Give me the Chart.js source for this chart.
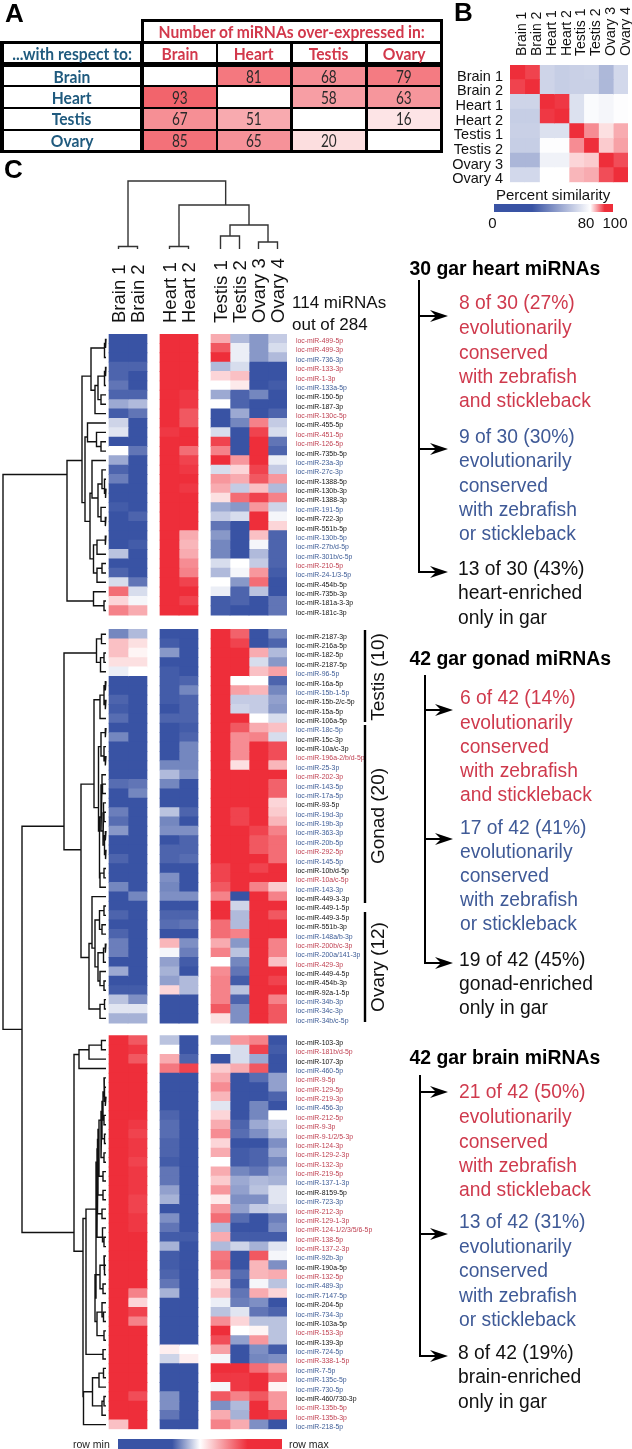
<!DOCTYPE html>
<html>
<head>
<meta charset="utf-8">
<title>gar miRNAs</title>
<script src="https://cdn.jsdelivr.net/npm/chart.js@4"></script>
<style>
html, body { margin: 0; padding: 0; background: #fff; }
#page { position: relative; width: 632px; height: 1449px; overflow: hidden; font-family: "Liberation Sans", Arial, sans-serif; }
#page canvas { position: absolute; }
#arrows { position: absolute; left: 0; top: 0; }
.t { position: absolute; white-space: nowrap; }
.cell { position: absolute; display: flex; align-items: center; justify-content: center; overflow: visible; white-space: nowrap; font-family: Lato, sans-serif; font-size: 17px; background: #fff; }
.cell span { display: inline-block; }
</style>
</head>
<body>
<div id="page">
  <canvas id="chartMain" width="632" height="1449" style="left:0;top:0"></canvas>
  <canvas id="chartSim" width="192" height="198" style="left:440px;top:0"></canvas>
  <svg id="arrows" width="632" height="1449"></svg>
</div>
<script>
// panel A
const tissues = ['Brain', 'Heart', 'Testis', 'Ovary'];
const overExpressed = [
    [null, 81, 68, 79],
    [93, null, 58, 63],
    [67, 51, null, 16],
    [85, 65, 20, null]
];

// panel B
const simSamples = ['Brain 1', 'Brain 2', 'Heart 1', 'Heart 2', 'Testis 1', 'Testis 2', 'Ovary 3', 'Ovary 4'];
const similarity = [
    [100, 98, 60, 57, 58, 59, 47, 62],
    [98, 100, 60, 57, 58, 58, 47, 62],
    [60, 60, 100, 99, 66, 78, 76, 79],
    [57, 57, 99, 100, 66, 78, 76, 79],
    [58, 58, 66, 66, 100, 91, 83, 88],
    [57, 57, 79, 79, 91, 100, 85, 89],
    [46, 46, 74, 74, 84, 85, 100, 97],
    [62, 62, 80, 80, 87, 88, 97, 100]
];

// panel C, values are row scaled from -10 (row min) to 10 (row max)
const heartNames = ['499-5p','499-3p','736-3p','133-3p','1-3p','133a-5p','150-5p','187-3p','130c-5p','455-5p','451-5p','126-5p','735b-5p','23a-3p','27c-3p','1388-5p','130b-3p','1388-3p','191-5p','722-3p','551b-5p','130b-5p','27b/d-5p','301b/c-5p','210-5p','24-1/3-5p','454b-5p','735b-3p','181a-3-3p','181c-3p'];
const heartKinds = 'rrbrrbkkrkrrkbbkkkbkkbbbrbkkkk';
const heartRows = [
    [-10,-10,10,10,4,-4,-6,-3],
    [-10,-10,10,10,8,-1,-6,-2],
    [-10,-10,10,10,10,-1,-6,-4],
    [-9,-9,10,10,-4,-2,-10,-10],
    [-9,-10,10,10,2,3,-10,-10],
    [-8,-10,10,10,0,1,-10,-9.5],
    [-9,-9,10,9.5,-5,-9,-7,-10],
    [-5,-4,10,9.5,0,-9,-10,-10],
    [-9.5,-8,10,8,-10,-5,-10,-9],
    [-2.5,-10,10,8,-10,-7,6,-3],
    [-1.5,-10,9.5,10,-2,-10,9,-2],
    [-10,-10,10,10,9,-10,10,-8],
    [0,-8,10,7,6,-10,10,-9],
    [-5,-10,10,9,10,5,10,-1],
    [-9,-10,10,9.5,-2,2,9,-3],
    [-7.5,-10,10,10,5,4,8,5],
    [-10,-10,10,9.5,4,-3,3,-4],
    [-10,-10,10,10,1.5,7,9,6],
    [-9.5,-10,10,10,-5,-6,5,-2.5],
    [-10,-9,10,10,-3,-2,10,-0.5],
    [-10,-10,10,10,-8,-10,10,2],
    [-10,-10,10,4,-6,-10,3,-9],
    [-10,-9.5,10,3.5,-7,-10,-0.5,-9],
    [-3.5,-10,10,4,-7,-10,-4,-9],
    [-10,-10,10,5.5,-2,0,-3,-9],
    [-9,-10,10,6,-4,-0.5,5,-9.5],
    [-2,-8,10,9,0,-6,7,-10],
    [7,-2,10,10,-1,-9,-3.5,-10],
    [2,-0.5,10,9,-9.5,-9,-10,-8],
    [6,4,10,10,-9.5,-10,-10,-8]
];

const gonadNames = ['2187-3p','216a-5p','182-5p','2187-5p','96-5p','16a-5p','15b-1-5p','15b-2/c-5p','15a-5p','106a-5p','18c-5p','15c-3p','10a/c-3p','196a-2/b/d-5p','25-3p','202-3p','143-5p','17a-5p','93-5p','19d-3p','19b-3p','363-3p','20b-5p','292-5p','145-5p','10b/d-5p','10a/c-5p','143-3p','449-3-3p','449-1-5p','449-3-5p','551b-3p','148a/b-3p','200b/c-3p','200a/141-3p','429-3p','449-4-5p','454b-3p','92a-1-5p','34b-3p','34c-3p','34b/c-5p'];
const gonadKinds = 'kkkkbkbkkkbkkrbrbbkbbbbrbkrbkkkkbrbrkkkbbb';
const gonadRows = [
    [-7,-4,-10,-10,10,7.5,-10,-7],
    [3,1.5,-9.5,-10,10,9,-10,-9],
    [3,0.5,-6,-10,10,10,4,-4],
    [1.5,1.5,-10,-10,10,10,-2,-6],
    [-1,0,-9.5,-10,10,10,3,4.5],
    [-10,-10,-9.5,-9,10,0,0,-9],
    [-10,-10,-9.5,-7,10,4.5,3.5,-7],
    [-9,-10,-9.5,-9,10,-3,-3,-5.5],
    [-9.5,-10,-10,-9,10,-2.5,-3,-6],
    [-8.5,-10,-9,-9,10,10,0,-2],
    [-10,-10,-10,-9.5,10,8,4,3],
    [-7,-10,-10,-9,10,5.5,6,-2],
    [-10,-10,-10,-7,10,5.5,10,8.5],
    [-10,-10,-10,-7,10,5.5,10,8.5],
    [-10,-10,-7,-7,10,1.5,10,3.5],
    [-10,-10,-4,-6.5,10,10,10,10],
    [-8.5,-8,-7,-10,10,10,10,7.5],
    [-10,-7,-10,-10,10,10,10,7.5],
    [-10,-10,-10,-10,10,10,10,2],
    [-7.5,-10,-3.5,-9,10,9,10,2.5],
    [-8.5,-10,-7,-10,10,9,10,3.5],
    [-6,-10,-6.5,-6.5,10,10,9,6],
    [-10,-10,-10,-9,10,10,8,7],
    [-10,-10,-9,-9,10,10,8,7],
    [-9,-10,-9,-8.5,10,10,10,7],
    [-10,-10,-10,-10,9,10,9,10],
    [-10,-10,-6.5,-10,9,10,10,10],
    [-7,-10,-7,-10,8,10,6,2.5],
    [-10,-7,-6.5,-6.5,6,-10,10,6],
    [-10,-10,-10,-10,10,-2.5,10,10],
    [-9,-10,-9,-9,10,-4,10,8],
    [-10,-10,-8.5,-8,7,-4,10,10],
    [-9,-10,-10,-10,7,6,10,10],
    [-7.5,-10,3.5,-6.5,4,-6,10,6],
    [-7.5,-10,-0.5,-7.5,6,-3.5,10,6],
    [-10,-10,-5.5,-9.5,0,-7,10,3],
    [-5,-10,-4.5,-10,5.5,-8,10,10],
    [-10,-10,-5.5,-4,6,-9.5,10,9],
    [-9.5,-9.5,2,-4,6,-3.5,10,10],
    [-3.5,-6.5,-10,-10,6,-9,10,6],
    [-1.5,-1.5,-10,-10,8,-6.5,10,8],
    [-4.5,-4.5,-10,-10,1.5,-6.5,10,8]
];

const brainNames = ['103-3p','181b/d-5p','107-3p','460-5p','9-5p','129-5p','219-3p','456-3p','212-5p','9-3p','9-1/2/5-3p','124-3p','129-2-3p','132-3p','219-5p','137-1-3p','8159-5p','723-3p','212-3p','129-1-3p','124-1/2/3/5/6-5p','138-5p','137-2-3p','92b-3p','190a-5p','132-5p','489-3p','7147-5p','204-5p','734-3p','103a-5p','153-3p','139-3p','724-5p','338-1-5p','7-5p','135c-5p','730-5p','460/730-3p','135b-5p','135b-3p','218-5p'];
const brainKinds = 'krkbrrrbrrrrrrrbkbrrrrrbkrbbkbkrkbrbbbkrrb';
const brainRows = [
    [10,8,-3.5,-10,-4,5,6,-10],
    [10,9.5,0,-10,0,-2,9,-9.5],
    [10,8,4,-9,-10,-2,-5,-10],
    [10,10,6.5,9,2.5,4,8,-10],
    [10,10,-10,-10,4,-10,-8.5,-5.5],
    [10,10,-10,-10,5.5,-10,-10,-5.5],
    [10,10,-10,-10,3.5,-10,-10,-9],
    [10,10,-10,-10,-1.5,-10,-7,-10],
    [10,10,-9,-10,2,-10,-7,0],
    [10,9.5,-8.5,-10,4,-9,-5,-3],
    [10,9,-8.5,-10,5.5,-8.5,-6.5,-3.5],
    [10,9.5,-9,-10,2,-10,-10,-6.5],
    [10,9.5,-9,-10,4,-9.5,-9,-5],
    [10,9,-9.5,-10,0,-9.5,-9,-7],
    [10,9.5,-8,-10,4,-7,-8,-5],
    [10,9.5,-8,-10,2.5,-5,-4,-4.5],
    [10,9.5,-5.5,-10,5,-5.5,-3.5,-1.5],
    [10,9,-4.5,-10,1,-6.5,-6.5,-1.5],
    [10,9,-10,-10,5,-5.5,-3,-2.5],
    [10,9.5,-6.5,-10,7,-8.5,-10,-7.5],
    [10,9.5,-8,-10,-4,-10,-10,-6.5],
    [10,10,-9.5,-9.5,4,-9.5,-9.5,-9.5],
    [10,10,-4.5,-10,-4,-2.5,-4.5,-1.5],
    [10,10,-9.5,-10,6.5,-10,8,-0.5],
    [10,10,-9.5,-10,7,-10,3.5,-6.5],
    [10,10,-9,-10,4.5,-8.5,3.5,4],
    [10,10,-8,-10,1.5,-9.5,-0.5,-3.5],
    [10,6,-4.5,-10,3,-8,4,2],
    [10,2,-10,-10,-1,-7.5,-6.5,-10],
    [10,9,-10,-10,-3.5,-1.5,-8,-9],
    [10,6,-10,-10,5.5,2,-3.5,-3.5],
    [10,10,-10,-10,10,0,0.5,-3.5],
    [10,10,-10,-10,8.5,-5.5,5,-3.5],
    [10,10,0.8,0,4.5,-10,-6.5,-9.5],
    [10,10,-2.5,0.8,-0.5,-10,-7,-6.5],
    [10,10,-10,-10,10,10,7,4.5],
    [10,10,-10,-10,9.5,9.5,10,7],
    [10,10,-10,-10,-0.5,9.5,10,0.5],
    [10,8.5,-6.5,-10,8,6,8,5],
    [10,10,-6.5,-10,-6.5,-4,10,5],
    [10,10,-8,-10,4,-4.5,10,9],
    [3,10,-10,-10,6,4,-6.5,-10]
];

// dendrograms: node = [merge height, child, child], a number is a leaf
const sampleTree = [68, [2.5, 0, 1], [44, [2.5, 2, 3], [24, [13, 4, 5], [7, 6, 7]]]];
const heartTree = [39,
    [24,
        [15, [1.5, [0.7, 1, 2], 3], [11, [8, [1.5, [0.7, 4, 5], 6], [5, 7, 8]], 9]],
        [21,
            [18.5, 10, [9.5, 11, [5, 12, 13]]],
            [16,
                [14, 14, [8, [4, 15, [1.5, 16, [0.7, 17, 18]]], [5, 19, [1, 20, 21]]]],
                [12.5, [9, [1, 22, 23], 24], [9, [4, 25, 26], 27]]]]],
    [12.5, 28, [2, 29, 30]]];
const gonadTree = [42,
    [9.5, [4.5, 31, 32], [5.5, [2, 33, 34], 35]],
    [25,
        [12,
            [6, [2, [1, 36, 37], [1, 38, 39]], 40],
            [7.5,
                [5, [1, 41, 42], [2, 43, [1, 44, 45]]],
                [6.5,
                    [5, [4, 46, [3.5, 47, 48]], [3, [2.5, 49, [2, 50, 51]], [1.5, [1, 52, 53], [0.7, 54, 55]]]],
                    [6, [2, 56, 57], 58]]]],
        [17,
            [14, 59, [11, [6.5, [2, 60, 61], [4, 62, 63]], [8, [2.5, [1, 64, 65], 66], [6, 67, [2, 68, 69]]]]],
            [6, [1.5, 70, 71], 72]]]];
const brainChain = [9, [8.5, [8, [7, [5, [4, [3, [2, 77, [1.5, 78, [1, 79, 80]]], [2, 81, 82]], [1.5, 83, 84]], [2, 85, 86]], [3, 87, 88]], [3, 89, 90]], [4, 91, 92]], [3.5, 93, [2, 94, 95]]];
const brainTree = [32,
    [27, [17, [4.5, 73, 74], 75], 76],
    [23,
        [20,
            [10, brainChain, [11, [6, [2, 96, [1.5, 97, 98]], [3, 99, 100]], [9, [4, 101, [2.5, 102, 103]], [2, 104, 105]]]],
            [3, 106, 107]],
        [22.5, [13.5, [7, [2.5, 108, 109], 110], [4, [2, 111, 112], 113]], 114]]];
const rowTree = [103, heartTree, [84, gonadTree, brainTree]];

// layout of the heatmap in column and row units
const colStart = [0, 1, 2.684, 3.684, 5.368, 6.368, 7.368, 8.368];
const blockOffset = [0, 1.54, 2.89];
const labelShift = 0.27;

const RED = [238, 46, 58];
const BLUE = [57, 83, 164];
const kindColor = { r: '#bf3f50', b: '#3d5c96', k: '#111' };
const textRed = '#cf3a4d', textBlue = '#3f5a97', teal = '#1f5a7e', tableRed = '#d2384b';

function mix(rgb, t) {
    const c = rgb.map(v => Math.round(255 + (v - 255) * t));
    return `rgb(${c[0]},${c[1]},${c[2]})`;
}
function heatColor(v) {
    return v < 0 ? mix(BLUE, -v / 10) : mix(RED, v / 10);
}
function simColor(p) {
    return p < 80 ? mix(BLUE, (80 - p) / 80) : mix(RED, (p - 80) / 20);
}

const allRows = [...heartRows, ...gonadRows, ...brainRows];
const allNames = [...heartNames, ...gonadNames, ...brainNames].map(n => 'loc-miR-' + n);
const allKinds = (heartKinds + gonadKinds + brainKinds).split('');
const rowPos = allRows.map((r, i) => i + 0.5 + blockOffset[i < 30 ? 0 : i < 72 ? 1 : 2]);
const colCenter = colStart.map(s => s + 0.5);

// walk a tree, pushing the elbow of every merge; node position = mean of its leaves
function treeLines(node, leafPos, out) {
    if (typeof node === 'number') return { h: 0, pos: leafPos(node), n: 1 };
    const a = treeLines(node[1], leafPos, out);
    const b = treeLines(node[2], leafPos, out);
    const h = node[0];
    out.push({ h: a.h, p: a.pos }, { h: h, p: a.pos }, { h: h, p: b.pos }, { h: b.h, p: b.pos }, null);
    return { h: h, pos: (a.pos * a.n + b.pos * b.n) / (a.n + b.n), n: a.n + b.n };
}

const rowLines = [];
treeLines(rowTree, leaf => rowPos[leaf - 1], rowLines);
const colLines = [];
treeLines(sampleTree, leaf => colCenter[leaf], colLines);

const datasets = simSamples.map((name, c) => ({
    type: 'bar',
    label: name,
    data: allRows.map((r, i) => ({ x: [colStart[c], colStart[c] + 1], y: rowPos[i] })),
    backgroundColor: allRows.map(r => heatColor(r[c])),
    borderWidth: 0,
    barThickness: 9.6,
    grouped: false
}));
datasets.push({
    type: 'line',
    label: 'rows',
    xAxisID: 'xd',
    yAxisID: 'y',
    data: rowLines.map(d => d ? { x: d.h, y: d.p } : { x: null, y: null }),
    borderColor: '#111',
    borderWidth: 1.4,
    pointRadius: 0,
    clip: false,
    order: -1
});
datasets.push({
    type: 'line',
    label: 'samples',
    xAxisID: 'x',
    yAxisID: 'yd',
    data: colLines.map(d => d ? { x: d.p, y: d.h } : { x: null, y: null }),
    borderColor: '#333',
    borderWidth: 1.4,
    pointRadius: 0,
    clip: false,
    order: -1
});

new Chart(document.getElementById('chartMain'), {
    type: 'bar',
    data: { datasets: datasets },
    options: {
        indexAxis: 'y',
        responsive: false,
        animation: false,
        layout: { padding: { bottom: 19.7 } },
        plugins: { legend: { display: false }, tooltip: { enabled: false } },
        scales: {
            x: {
                type: 'linear',
                position: 'top',
                min: -5.737,
                max: 9.368,
                grid: { display: false, drawTicks: false },
                border: { display: false },
                afterBuildTicks: s => { s.ticks = colCenter.map(v => ({ value: v })); },
                afterFit: s => { s.height = 334; },
                ticks: {
                    autoSkip: false,
                    minRotation: 90,
                    maxRotation: 90,
                    padding: 11,
                    labelOffset: 23.5,
                    color: '#111',
                    font: { family: 'Liberation Sans', size: 18.5 },
                    callback: (v, i) => simSamples[i]
                }
            },
            y: {
                type: 'linear',
                position: 'right',
                reverse: true,
                offset: false,
                min: 0,
                max: 116.89,
                grid: { display: false, drawTicks: false, offset: false },
                border: { display: false },
                afterBuildTicks: s => { s.ticks = rowPos.map(v => ({ value: v + labelShift })); },
                afterFit: s => { s.width = 345; },
                ticks: {
                    autoSkip: false,
                    padding: 9,
                    font: { family: 'Liberation Sans', size: 6.9 },
                    color: c => kindColor[allKinds[c.index]],
                    callback: (v, i) => allNames[i]
                }
            },
            xd: { type: 'linear', axis: 'x', display: false, reverse: true, min: -181, max: 106 },
            yd: { type: 'linear', axis: 'y', display: false, offset: false, min: -1180.3, max: -85, grid: { offset: false } }
        }
    }
});

new Chart(document.getElementById('chartSim'), {
    type: 'bar',
    data: {
        labels: simSamples,
        datasets: simSamples.map((name, c) => ({
            label: name,
            data: simSamples.map((s, r) => ({ x: [c, c + 1], y: s })),
            backgroundColor: similarity.map(row => simColor(row[c])),
            borderWidth: 0,
            grouped: false,
            barPercentage: 1,
            categoryPercentage: 1
        }))
    },
    options: {
        indexAxis: 'y',
        responsive: false,
        animation: false,
        layout: { padding: { right: 4 } },
        plugins: { legend: { display: false }, tooltip: { enabled: false } },
        scales: {
            x: {
                type: 'linear',
                position: 'top',
                min: 0,
                max: 8,
                grid: { display: false, drawTicks: false },
                border: { display: false },
                afterBuildTicks: s => { s.ticks = simSamples.map((n, i) => ({ value: i + 0.5 })); },
                afterFit: s => { s.height = 65; },
                ticks: {
                    autoSkip: false,
                    minRotation: 90,
                    maxRotation: 90,
                    padding: 9,
                    labelOffset: 22,
                    color: '#111',
                    font: { family: 'Liberation Sans', size: 14 },
                    callback: (v, i) => simSamples[i]
                }
            },
            y: {
                type: 'category',
                grid: { display: false, drawTicks: false },
                border: { display: false },
                afterFit: s => { s.width = 70; },
                ticks: { autoSkip: false, padding: 7, labelOffset: 4.5, color: '#111', font: { family: 'Liberation Sans', size: 14.5 } }
            }
        }
    }
});

// everything around the charts
const page = document.getElementById('page');

function addBox(x, y, w, h, color) {
    const d = document.createElement('div');
    d.style.cssText = `position:absolute;left:${x}px;top:${y}px;width:${w}px;height:${h}px;background:${color}`;
    page.appendChild(d);
    return d;
}
function addText(str, x, y, size, color, opts) {
    opts = opts || {};
    const d = document.createElement('div');
    d.className = 't';
    d.textContent = str;
    const tf = opts.center ? 'translate(-50%,-50%)' : 'translateY(-50%)';
    d.style.cssText = `left:${x}px;top:${y}px;font-size:${size}px;color:${color};font-weight:${opts.bold ? 700 : 400};transform:${tf}${opts.rotate ? ' rotate(-90deg)' : ''}`;
    page.appendChild(d);
}
function addCell(str, x0, x1, y0, y1, color, bg, bold) {
    const d = document.createElement('div');
    d.className = 'cell';
    const sp = document.createElement('span');
    sp.textContent = str;
    sp.style.transform = `scaleX(${bold ? 0.92 : 0.8})`;
    d.appendChild(sp);
    d.style.cssText = `left:${x0}px;top:${y0}px;width:${x1 - x0}px;height:${y1 - y0}px;color:${color};background:${bg};font-weight:${bold ? 700 : 400}`;
    page.appendChild(d);
}

// panel A table
const colEdges = [[144, 216], [218, 290], [293, 365], [368, 439.5]];
const rowEdges = [[67, 85], [87, 107], [109, 128.5], [131, 150]];
addBox(0, 41, 442.5, 112, '#000');
addBox(141, 19, 301.5, 24, '#000');
addCell('Number of miRNAs over-expressed in:', 144, 439.5, 22, 41, tableRed, '#fff', true);
addCell('...with respect to:', 4, 140, 44, 62, teal, '#fff', true);
tissues.forEach((t, i) => {
    addCell(t, colEdges[i][0], colEdges[i][1], 44, 62, tableRed, '#fff', true);
    addCell(t, 4, 140, rowEdges[i][0], rowEdges[i][1], teal, '#fff', true);
    overExpressed[i].forEach((n, j) => {
        addCell(n === null ? '' : n, colEdges[j][0], colEdges[j][1], rowEdges[i][0], rowEdges[i][1], '#2a2a2a', n === null ? '#fff' : mix(RED, n / 125));
    });
});

addText('A', 5, 13, 26, '#000', { bold: true });
addText('B', 454, 12, 26, '#000', { bold: true });
addText('C', 4, 169, 26, '#000', { bold: true });

// panel B colour bar
addText('Percent similarity', 496, 194, 15, '#111');
addBox(494, 204, 119, 7.5, 'linear-gradient(to right,#3953a4 0%,#3953a4 32%,#fff 81%,#ee2e3a 93%,#ee2e3a 100%)');
addText('0', 492.5, 222, 15, '#111', { center: true });
addText('80', 586, 222, 15, '#111', { center: true });
addText('100', 615, 222, 15, '#111', { center: true });

// panel C text
addText('114 miRNAs', 292, 303, 17, '#111');
addText('out of 284', 292, 325, 17, '#111');
addText('Testis (10)', 378, 677, 19, '#111', { center: true, rotate: true });
addText('Gonad (20)', 378, 816, 19, '#111', { center: true, rotate: true });
addText('Ovary (12)', 378, 967, 19, '#111', { center: true, rotate: true });

addText('row min', 73, 1444, 10.5, '#222');
addText('row max', 289, 1444, 10.5, '#222');
addBox(118, 1439, 164, 10, 'linear-gradient(to right,#3953a4 0%,#3953a4 33%,#fff 50%,#ee2e3a 79%,#ee2e3a 100%)');

const conservedAnd = ['evolutionarily', 'conserved', 'with zebrafish', 'and stickleback'];
const conservedOr = ['evolutionarily', 'conserved', 'with zebrafish', 'or stickleback'];
const summaries = [
    { head: '30 gar heart miRNAs', headY: 268, x: 459, line: 419, top: 280, tip: 448,
      redY: [303, 328, 353, 377, 401], blueY: [437, 461, 486, 510, 534], blackY: [569, 593, 618], arrowY: [316, 449, 572],
      red: '8 of 30 (27%)', blue: '9 of 30 (30%)', black: ['13 of 30 (43%)', 'heart-enriched', 'only in gar'] },
    { head: '42 gar gonad miRNAs', headY: 658, x: 460, line: 425, top: 675, tip: 453,
      redY: [698, 723, 747, 771, 795], blueY: [828, 852, 876, 900, 924], blackY: [960, 984, 1008], arrowY: [710, 839, 963],
      red: '6 of 42 (14%)', blue: '17 of 42 (41%)', black: ['19 of 42 (45%)', 'gonad-enriched', 'only in gar'] },
    { head: '42 gar brain miRNAs', headY: 1057, x: 459, line: 420, top: 1075, tip: 448,
      redY: [1092, 1117, 1142, 1166, 1190], blueY: [1222, 1247, 1271, 1296, 1320], blackY: [1353, 1377, 1402], arrowY: [1092, 1234, 1356],
      red: '21 of 42 (50%)', blue: '13 of 42 (31%)', black: ['8 of 42 (19%)', 'brain-enriched', 'only in gar'] }
];

const svg = document.getElementById('arrows');
let marks = '';
function svgLine(x1, y1, x2, y2, w) {
    marks += `<line x1="${x1}" y1="${y1}" x2="${x2}" y2="${y2}" stroke="#000" stroke-width="${w}"/>`;
}
summaries.forEach(s => {
    addText(s.head, 409.5, s.headY, 19.4, '#000', { bold: true });
    [s.red, ...conservedAnd].forEach((t, i) => addText(t, s.x, s.redY[i], 19.3, textRed));
    [s.blue, ...conservedOr].forEach((t, i) => addText(t, s.x, s.blueY[i], 19.3, textBlue));
    s.black.forEach((t, i) => addText(t, s.x - 1, s.blackY[i], 19.3, '#111'));
    svgLine(s.line, s.top, s.line, s.arrowY[2] + 1, 2);
    s.arrowY.forEach(y => {
        svgLine(s.line, y, s.tip - 10, y, 2);
        marks += `<polygon points="${s.tip},${y} ${s.tip - 18},${y - 6} ${s.tip - 12},${y} ${s.tip - 18},${y + 6}" fill="#000"/>`;
    });
});
svgLine(365, 630, 365, 722, 2.4);
svgLine(365, 725, 365, 903, 2.4);
svgLine(365, 912, 365, 1022, 2.4);
svg.innerHTML = marks;
</script>
</body>
</html>
